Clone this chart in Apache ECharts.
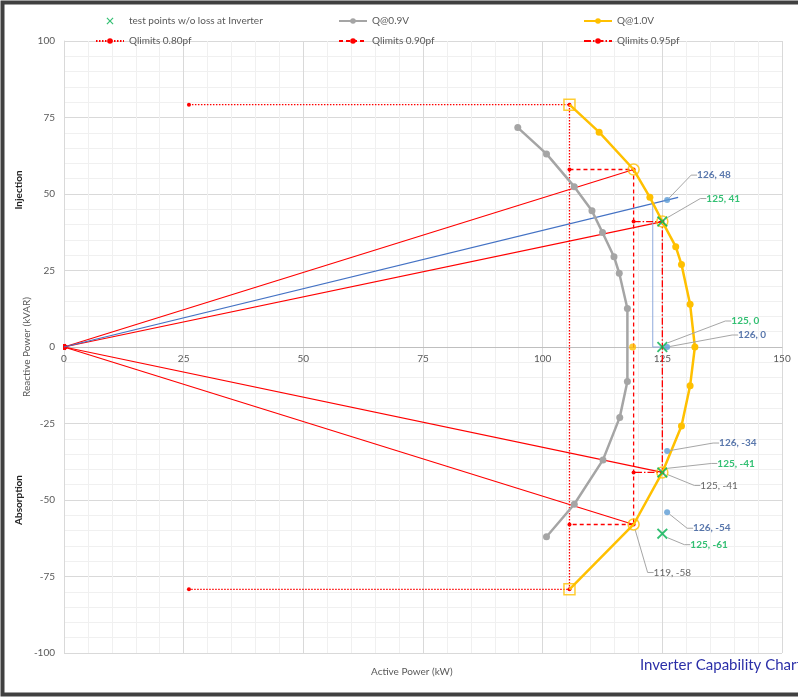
<!DOCTYPE html>
<html>
<head>
<meta charset="utf-8">
<title>Inverter Capability Chart</title>
<script src="https://cdn.jsdelivr.net/npm/echarts@6/dist/echarts.min.js"></script>
<style>
  html, body { margin: 0; padding: 0; background: #ffffff; }
  #chart { width: 798px; height: 697px; }
</style>
</head>
<body>
<div id="chart"></div>
<script>
// ---- data (P in kW, Q in kVAR) ----
const xTicks = [0, 25, 50, 75, 100, 125, 150];
const yTicks = [-100, -75, -50, -25, 0, 25, 50, 75, 100];

// Q capability curve at 0.9 V
const q09P = [94.8, 100.8, 106.6, 110.3, 112.5, 114.9, 116.0, 117.7, 117.7, 116.1, 112.6, 106.6, 100.8];
const q09Q = [71.7, 63.1, 52.4, 44.5, 37.4, 29.5, 24.1, 12.6, -11.3, -23.0, -36.9, -51.4, -62.0];

// Q capability curve at 1.0 V
const q10P = [105.6, 111.8, 119, 122.4, 125, 127.8, 129.0, 130.8, 131.8, 130.8, 129.0, 125, 119, 105.6];
const q10Q = [79.2, 70.2, 58, 48.9, 41, 32.8, 27.0, 14.0, 0, -12.7, -25.8, -41, -58, -79.2];
// indices on the 1.0 V curve drawn without their own dot
const q10Bare = [0, 2, 4, 11, 12, 13];

// power-factor limit boxes
const pf80P = [26.1, 105.6, 105.6, 26.1];
const pf80Q = [79.2, 79.2, -79.2, -79.2];
const pf90P = [105.6, 119, 119, 105.6];
const pf90Q = [58, 58, -58, -58];
const pf95P = [119, 125, 125, 119];
const pf95Q = [41, 41, -41, -41];

// rays from the origin to the pf corner points
const rayP = [119, 125, 125, 119];
const rayQ = [58, 41, -41, -58];

// corner points on the 1.0 V curve
const cornerP = [105.6, 119, 125, 125, 119, 105.6];
const cornerQ = [79.2, 58, 41, -41, -58, -79.2];
const cornerShape = ['rect', 'circle', 'circle', 'circle', 'circle', 'rect'];
const cornerLabelled = [false, false, false, true, true, false];

// unity power point on the 0.9 V curve
const unityP = [118.8];
const unityQ = [0];

// test points without inverter loss
const testP = [125, 125, 125, 125];
const testQ = [41, 0, -41, -61];

// measured points
const measP = [126, 126, 126, 126];
const measQ = [48, 0, -34, -54];

// measured power-factor ray and its drop line
const measRayP = [0, 128.3];
const measRayQ = [0, 48.9];
const dropP = [123, 123, 125];
const dropQ = [46.9, 0, 0];

// ---- label placement (pixel offsets of label's left-middle from the mark) ----
const testLabelOffset = [[44, -23], [69, -26], [55, -9], [28, 11]];
const measLabelOffset = [[30, -25], [71, -12], [52, -8], [26, 16]];
const cornerLabelOffset = { 3: [38, 13], 4: [20, 48] };

const zip = (a, b) => a.map((v, i) => [v, b[i]]);
const pairLabel = (p) => Math.round(p.value[0]) + ', ' + Math.round(p.value[1]);

const FONT = 'Lato, "Open Sans", sans-serif';
const RED = '#FF0000';
const GOLD = '#FFC000';
const GREY = '#A5A5A5';
const GREEN = '#00B050';
const BLUE_PT = '#5B9BD5';
const CROSS = 'path://M0,1.2 L1.2,0 L5,3.8 L8.8,0 L10,1.2 L6.2,5 L10,8.8 L8.8,10 L5,6.2 L1.2,10 L0,8.8 L3.8,5 Z';

// plot box in pixels
const GRID = { left: 64, right: 16, top: 41, bottom: 44 };
const PLOT_H = 697 - GRID.top - GRID.bottom;
// lift the P axis from the bottom edge up to Q = 0
const X_AXIS_LIFT = -PLOT_H * (0 - yTicks[0]) / (yTicks[yTicks.length - 1] - yTicks[0]);

function offsetLayout(offsets) {
  return function (params) {
    const o = offsets[params.dataIndex];
    if (!o) return {};
    const cx = params.rect.x + params.rect.width / 2;
    const cy = params.rect.y + params.rect.height / 2;
    return { x: cx + o[0], y: cy + o[1], align: 'left', verticalAlign: 'middle' };
  };
}

const labelLine = { show: true, length2: 6, lineStyle: { color: '#A6A6A6', width: 1 } };

const chart = echarts.init(document.getElementById('chart'), null, { renderer: 'canvas' });

const option = {
  backgroundColor: '#ffffff',
  animation: false,
  textStyle: { fontFamily: FONT },
  grid: { left: GRID.left, right: GRID.right, top: GRID.top, bottom: GRID.bottom, containLabel: false },
  legend: [
    {
      orient: 'vertical', left: 90, top: 11, itemWidth: 28, itemHeight: 7, itemGap: 10,
      textStyle: { fontSize: 10, color: '#595959', fontFamily: FONT },
      data: ['test points w/o loss at Inverter', 'Qlimits 0.80pf']
    },
    {
      orient: 'vertical', left: 333, top: 11, itemWidth: 28, itemHeight: 7, itemGap: 10,
      textStyle: { fontSize: 10, color: '#595959', fontFamily: FONT },
      data: ['Q@0.9V', 'Qlimits 0.90pf']
    },
    {
      orient: 'vertical', left: 578, top: 11, itemWidth: 28, itemHeight: 7, itemGap: 10,
      textStyle: { fontSize: 10, color: '#595959', fontFamily: FONT },
      data: ['Q@1.0V', 'Qlimits 0.95pf']
    }
  ],
  xAxis: {
    type: 'value', min: xTicks[0], max: xTicks[xTicks.length - 1], interval: 25,
    position: 'bottom', offset: X_AXIS_LIFT,
    axisLine: { show: true, onZero: false, lineStyle: { color: '#BFBFBF', width: 1 } },
    axisTick: { show: false },
    axisLabel: { color: '#595959', fontSize: 10, margin: 7, fontFamily: FONT },
    splitLine: { show: true, lineStyle: { color: '#D9D9D9', width: 1 } },
    minorTick: { show: false, splitNumber: 5 },
    minorSplitLine: { show: true, lineStyle: { color: '#F0F0F0', width: 1 } }
  },
  yAxis: {
    type: 'value', min: yTicks[0], max: yTicks[yTicks.length - 1], interval: 25,
    name: 'Reactive Power (kVAR)', nameLocation: 'middle', nameGap: 37, nameMoveOverlap: false,
    nameTextStyle: { color: '#595959', fontSize: 10, fontFamily: FONT, verticalAlign: 'middle' },
    axisLine: { show: true, onZero: false, lineStyle: { color: '#D9D9D9', width: 1 } },
    axisTick: { show: false },
    axisLabel: { color: '#595959', fontSize: 10, margin: 9, fontFamily: FONT },
    splitLine: { show: true, lineStyle: { color: '#D9D9D9', width: 1 } },
    minorTick: { show: false, splitNumber: 5 },
    minorSplitLine: { show: true, lineStyle: { color: '#F0F0F0', width: 1 } }
  },
  graphic: [
    {
      type: 'rect', left: 0, top: 0, silent: true, z: 100,
      shape: { x: 2, y: 2, width: 900, height: 692 },
      style: { fill: 'none', stroke: '#404040', lineWidth: 4 }
    },
    {
      type: 'text', left: 371, top: 667,
      style: { text: 'Active Power (kW)', fill: '#595959', font: '10px ' + FONT }
    },
    {
      type: 'text', x: 640, y: 665,
      style: { text: 'Inverter Capability Chart', fill: '#2B2FA8', font: '15px ' + FONT, verticalAlign: 'middle' }
    },
    {
      type: 'text', x: 19, y: 190, rotation: Math.PI / 2,
      style: { text: 'Injection', fill: '#262626', font: 'bold 10px ' + FONT, align: 'center', verticalAlign: 'middle' }
    },
    {
      type: 'text', x: 19, y: 500, rotation: Math.PI / 2,
      style: { text: 'Absorption', fill: '#262626', font: 'bold 10px ' + FONT, align: 'center', verticalAlign: 'middle' }
    }
  ],
  series: [
    {
      name: 'pf rays', type: 'lines', coordinateSystem: 'cartesian2d', z: 3,
      symbol: ['rect', 'none'], symbolSize: 5,
      lineStyle: { color: RED, width: 1.2, opacity: 1 },
      data: rayP.map((p, i) => ({ coords: [[0, 0], [p, rayQ[i]]] }))
    },
    {
      name: 'measured ray', type: 'line', z: 3, symbol: 'none',
      lineStyle: { color: '#4472C4', width: 1.2 },
      data: zip(measRayP, measRayQ)
    },
    {
      name: 'drop line', type: 'line', z: 3, symbol: 'none',
      lineStyle: { color: '#8FAADC', width: 1 },
      data: zip(dropP, dropQ)
    },
    {
      name: 'Qlimits 0.80pf', type: 'line', z: 4,
      symbol: 'circle', symbolSize: 4, itemStyle: { color: RED },
      lineStyle: { color: RED, width: 1.3, type: [1.5, 1.5] },
      data: zip(pf80P, pf80Q)
    },
    {
      name: 'Qlimits 0.90pf', type: 'line', z: 4,
      symbol: 'circle', symbolSize: 4, itemStyle: { color: RED },
      lineStyle: { color: RED, width: 1.3, type: [4, 3] },
      data: zip(pf90P, pf90Q)
    },
    {
      name: 'Qlimits 0.95pf', type: 'line', z: 4,
      symbol: 'circle', symbolSize: 4, itemStyle: { color: RED },
      lineStyle: { color: RED, width: 1.3, type: [7, 2, 1.5, 2] },
      data: zip(pf95P, pf95Q)
    },
    {
      name: 'Q@0.9V', type: 'line', z: 5,
      symbol: 'circle', symbolSize: 7, itemStyle: { color: GREY },
      lineStyle: { color: GREY, width: 2.5 },
      data: zip(q09P, q09Q)
    },
    {
      name: 'Q@1.0V', type: 'line', z: 5,
      symbol: 'circle', symbolSize: 7, itemStyle: { color: GOLD },
      lineStyle: { color: GOLD, width: 2.5 },
      data: q10P.map((p, i) => q10Bare.includes(i)
        ? { value: [p, q10Q[i]], symbol: 'none' }
        : [p, q10Q[i]])
    },
    {
      name: 'unity point', type: 'scatter', z: 6,
      symbol: 'circle', symbolSize: 7, itemStyle: { color: GOLD },
      data: zip(unityP, unityQ)
    },
    {
      name: 'pf corners', type: 'scatter', z: 6,
      symbolSize: 11,
      itemStyle: { color: 'rgba(255,255,255,0)', borderColor: GOLD, borderWidth: 1.5 },
      label: { show: false },
      labelLine: labelLine,
      labelLayout: function (params) {
        const o = cornerLabelOffset[params.dataIndex];
        if (!o) return {};
        const cx = params.rect.x + params.rect.width / 2;
        const cy = params.rect.y + params.rect.height / 2;
        return { x: cx + o[0], y: cy + o[1], align: 'left', verticalAlign: 'middle' };
      },
      data: cornerP.map((p, i) => ({
        value: [p, cornerQ[i]],
        symbol: cornerShape[i],
        label: {
          show: cornerLabelled[i], formatter: pairLabel,
          color: '#404040', fontSize: 10, fontFamily: FONT
        }
      }))
    },
    {
      name: 'measured', type: 'scatter', z: 7,
      symbol: 'circle', symbolSize: 6, itemStyle: { color: BLUE_PT },
      label: {
        show: true, formatter: pairLabel,
        color: '#2F5597', fontSize: 10, fontWeight: 'bold', fontFamily: FONT
      },
      labelLine: labelLine,
      labelLayout: offsetLayout(measLabelOffset),
      data: zip(measP, measQ)
    },
    {
      name: 'test points w/o loss at Inverter', type: 'scatter', z: 8,
      symbol: CROSS, symbolSize: 11, itemStyle: { color: GREEN },
      label: {
        show: true, formatter: pairLabel,
        color: GREEN, fontSize: 10, fontWeight: 'bold', fontFamily: FONT
      },
      labelLine: labelLine,
      labelLayout: offsetLayout(testLabelOffset),
      data: zip(testP, testQ)
    }
  ]
};

chart.setOption(option);
</script>
</body>
</html>
